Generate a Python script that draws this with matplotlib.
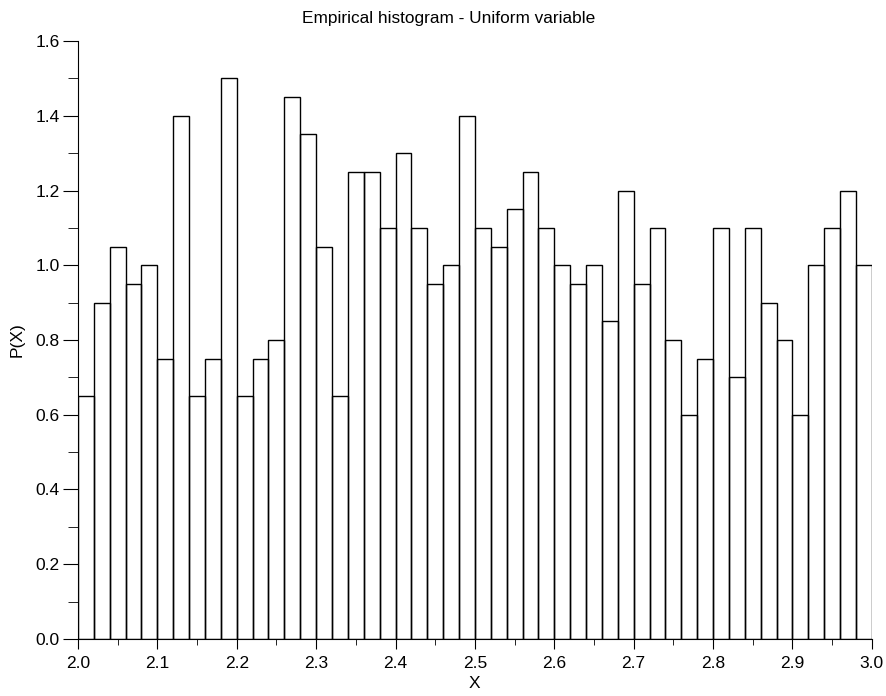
import numpy as np
import matplotlib.pyplot as plt
from matplotlib.ticker import MultipleLocator

plt.rcParams['font.family'] = ['Liberation Sans', 'DejaVu Sans']

# histogram of a uniform sample on [2, 3], 50 bins, normalised to a density
bin_start = 2.0
bin_width = 0.02
density = [
    0.65, 0.90, 1.05, 0.95, 1.00,
    0.75, 1.40, 0.65, 0.75, 1.50,
    0.65, 0.75, 0.80, 1.45, 1.35,
    1.05, 0.65, 1.25, 1.25, 1.10,
    1.30, 1.10, 0.95, 1.00, 1.40,
    1.10, 1.05, 1.15, 1.25, 1.10,
    1.00, 0.95, 1.00, 0.85, 1.20,
    0.95, 1.10, 0.80, 0.60, 0.75,
    1.10, 0.70, 1.10, 0.90, 0.80,
    0.60, 1.00, 1.10, 1.20, 1.00,
]

edges = bin_start + bin_width * np.arange(len(density))

fig = plt.figure(figsize=(8.86, 6.96), dpi=100)
ax = fig.add_axes([0.088, 0.082, 0.896, 0.859])

ax.bar(edges, density, width=bin_width, align='edge', fill=False,
       edgecolor='black', linewidth=1.0)

ax.set_xlim(2.0, 3.0)
ax.set_ylim(0.0, 1.6)
ax.xaxis.set_major_locator(MultipleLocator(0.1))
ax.xaxis.set_minor_locator(MultipleLocator(0.05))
ax.yaxis.set_major_locator(MultipleLocator(0.2))
ax.yaxis.set_minor_locator(MultipleLocator(0.1))
ax.xaxis.set_major_formatter(plt.FormatStrFormatter('%.1f'))
ax.yaxis.set_major_formatter(plt.FormatStrFormatter('%.1f'))

for side in ('top', 'right'):
    ax.spines[side].set_visible(False)
ax.tick_params(axis='x', which='major', direction='out', length=7, labelsize=12.5, pad=5)
ax.tick_params(axis='x', which='minor', direction='out', length=4)
ax.tick_params(axis='y', which='major', direction='out', length=11, labelsize=12.5, pad=2)
ax.tick_params(axis='y', which='minor', direction='out', length=7)

# title sits centred on the whole figure, not on the axes
fig.text(0.506, 0.974, "Empirical histogram - Uniform variable",
         fontsize=12.4, ha='center', va='center')
ax.set_xlabel("X", fontsize=12.5, labelpad=4)
ax.set_ylabel("P(X)", fontsize=12.5, labelpad=8)

fig.savefig("out.png", dpi=100)
